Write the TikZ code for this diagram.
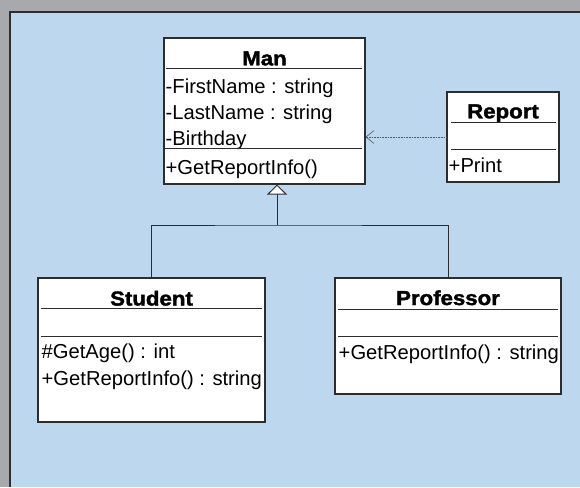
\documentclass[tikz,border=0pt]{standalone}
\usepackage{fontspec}
\setmainfont{Liberation Sans}
\newfontfamily\titlefont{Liberation Sans}[BoldFeatures={FakeBold=1.8,FakeStretch=1.1}]
\usetikzlibrary{arrows.meta}

\definecolor{frame}{RGB}{168,169,173}
\definecolor{panel}{RGB}{189,215,238}
\definecolor{edge}{RGB}{45,45,48}

\tikzset{
  classbox/.style={draw=edge, line width=1.1pt, fill=white, inner sep=0pt},
  classname/.style={inner sep=0pt, anchor=base, font=\titlefont\bfseries\fontsize{20.2}{24}\selectfont},
  member/.style={inner sep=0pt, anchor=base west, font=\fontsize{20.2}{24}\selectfont},
  divider/.style={draw=edge, line width=0.9pt},
  generalization/.style={draw=edge, line width=0.9pt},
  dependency/.style={draw=edge!80, line width=0.6pt, dash pattern=on 0.8pt off 0.8pt}
}

\begin{document}
\begin{tikzpicture}[x=1pt,y=-1pt]
\useasboundingbox (0,0) rectangle (580,487);

% window frame and drawing area
\fill[frame] (0,0) rectangle (580,487);
\fill[panel] (10,12) rectangle (580,487);
\draw[edge, line width=1.1pt] (10,487) -- (10,12) -- (580,12);

% class Man
\node[classbox, minimum width=201pt, minimum height=146pt] (man) at (264.5,111) {};
\node[classname] (mantitle) at (264.5,65.3) {Man};
\draw[divider] (166,68.5) -- (362,68.5);
\node[member] (manfn) at (165.5,93) {-FirstName : string};
\node[member] (manln) at (165.5,119.3) {-LastName : string};
\node[member] (manbd) at (165.5,145) {-Birthday};
\draw[divider] (165,148.3) -- (362,148.3);
\node[member] (manop) at (165.5,174) {+GetReportInfo()};

% class Report
\node[classbox, minimum width=112pt, minimum height=90pt] (report) at (503,137) {};
\node[classname] (reporttitle) at (503,118.3) {Report};
\draw[divider] (451,122) -- (556,122);
\draw[divider] (451,149) -- (556,149);
\node[member] (reportop) at (448.5,172.7) {+Print};

% class Student
\node[classbox, minimum width=227pt, minimum height=144pt] (student) at (151.5,350) {};
\node[classname] (studenttitle) at (151.5,305.5) {Student};
\draw[divider] (41,308) -- (262,308);
\draw[divider] (41,336) -- (262,336);
\node[member] (studentage) at (41.5,358.3) {\#GetAge() : int};
\node[member] (studentop) at (41.5,385.7) {+GetReportInfo() : string};

% class Professor
\node[classbox, minimum width=226pt, minimum height=116pt] (professor) at (448,336) {};
\node[classname] (professortitle) at (448,305) {Professor};
\draw[divider] (338,309) -- (558,309);
\draw[divider] (338,336) -- (558,336);
\node[member] (professorop) at (338.5,359) {+GetReportInfo() : string};

% dependency Report -> Man
\draw[dependency, -{Straight Barb[length=8pt,width=13pt,line width=0.6pt]}]
  (report.west) -- (report.west -| man.east);

% generalization Student, Professor -> Man
\coordinate (bar) at (277,225);
\draw[generalization] (student.north) |- (bar) -| (professor.north);
\draw[generalization, -{Triangle[width=20pt,length=10pt,fill=white,line width=0.9pt]}]
  (bar) -- (bar |- man.south);
\end{tikzpicture}
\end{document}
